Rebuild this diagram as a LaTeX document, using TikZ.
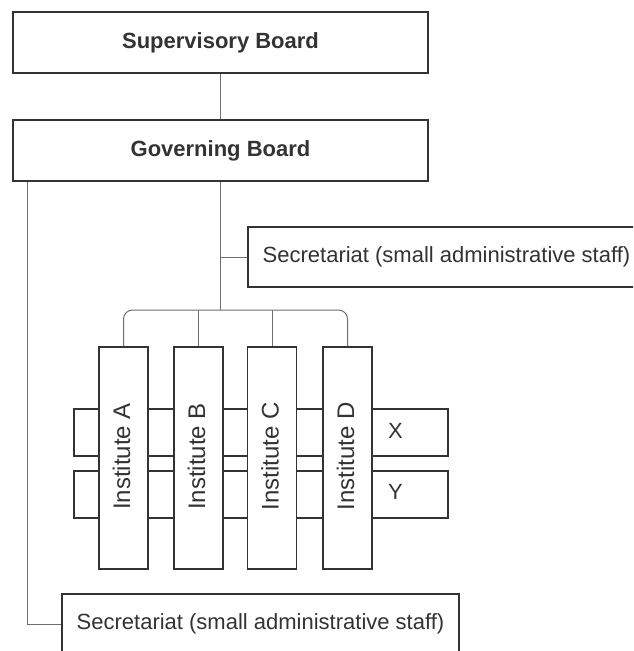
\documentclass[tikz,border=0pt]{standalone}
\usepackage{fontspec}
\setmainfont{Liberation Sans}
\definecolor{ink}{HTML}{333333}
\definecolor{wire}{HTML}{6E6E6E}
\begin{document}
\begin{tikzpicture}[x=1pt,y=-1pt,
  box/.style={draw=ink,line width=1.8pt,fill=white,inner sep=0pt,text=ink},
  board/.style={box,minimum width=415pt,minimum height=61pt,font=\fontsize{22}{26}\selectfont\bfseries},
  secbox/.style={box,minimum width=397pt,minimum height=60pt,font=\fontsize{22}{26}\selectfont},
  inst/.style={box,minimum width=49pt,minimum height=222pt},
  instlabel/.style={rotate=90,text=ink,inner sep=0pt,font=\fontsize{24}{28}\selectfont},
  rowbox/.style={box,minimum width=374pt,minimum height=47pt},
  rowlabel/.style={text=ink,inner sep=0pt,font=\fontsize{22}{26}\selectfont},
  wire/.style={draw=wire,line width=1pt}]
\useasboundingbox (0,0) rectangle (633,651);
\clip (0,0) rectangle (633,651);
% boards
\node[board] (sup) at (220.5,42.5) {Supervisory Board};
\node[board] (gov) at (220.5,150.5) {Governing Board};
\draw[wire] (sup.south) -- (gov.north);
% secretariats
\node[secbox] (sec1) at (446.5,257) {Secretariat (small administrative staff)};
\node[secbox] (sec2) at (260.5,624) {Secretariat (small administrative staff)};
% rows
\node[rowbox] (rowx) at (261,432.5) {};
\node[rowbox] (rowy) at (261,494.5) {};
\node[rowlabel] (xl) at (395.5,431) {X};
\node[rowlabel] (yl) at (395.5,492) {Y};
% institutes
\node[inst] (ia) at (123.5,458) {};
\node[inst] (ib) at (198.5,458) {};
\node[inst] (ic) at (272,458) {};
\node[inst] (id) at (347.5,458) {};
\node[instlabel] (la) at (121.5,456.5) {Institute A};
\node[instlabel] (lb) at (196.5,456.5) {Institute B};
\node[instlabel] (lc) at (270,456.5) {Institute C};
\node[instlabel] (ld) at (345.5,456.5) {Institute D};
% connectors
\coordinate (j) at (220.5,310);
\draw[wire] (gov.south) -- (j);
\draw[wire] (gov.south |- sec1.west) -- (sec1.west);
\draw[wire,rounded corners=9pt] (ia.north) |- (j) -| (id.north);
\draw[wire] (ib.north) -- (ib.north |- j);
\draw[wire] (ic.north) -- (ic.north |- j);
\draw[wire] ([xshift=15pt]gov.south west) |- (sec2.west);
\end{tikzpicture}
\end{document}
